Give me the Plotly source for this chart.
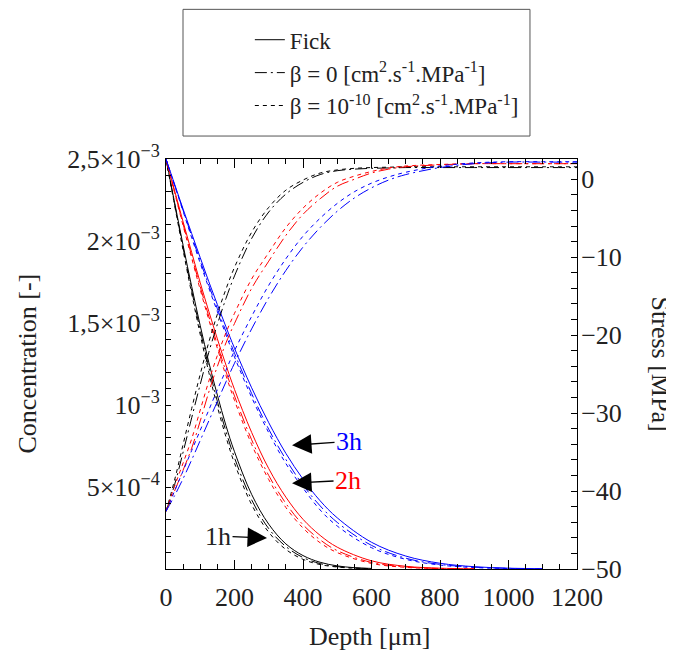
import plotly.graph_objects as go

# ---------------- data ----------------
# concentration values in units of 1e-3 [-]
depth_1h = [0, 25, 50, 75, 100, 125, 150, 175, 200, 250, 300, 350, 400, 450, 500, 550, 600]
fick_1h = [2.5, 2.236, 1.973, 1.722, 1.483, 1.260, 1.060, 0.875, 0.715, 0.455, 0.273, 0.153, 0.082, 0.041, 0.019, 0.008, 0.0035]
beta0_1h = [2.5, 2.227, 1.957, 1.698, 1.455, 1.230, 1.022, 0.840, 0.678, 0.422, 0.246, 0.137, 0.070, 0.033, 0.0145, 0.006, 0.0025]
beta10_1h = [2.5, 2.219, 1.943, 1.679, 1.429, 1.199, 0.990, 0.806, 0.645, 0.393, 0.224, 0.119, 0.059, 0.027, 0.012, 0.005, 0.002]

depth_2h = [0, 25, 50, 75, 100, 125, 150, 175, 200, 250, 300, 350, 400, 450, 500, 600, 700, 800, 900]
fick_2h = [2.5, 2.308, 2.116, 1.930, 1.745, 1.571, 1.403, 1.244, 1.095, 0.833, 0.612, 0.438, 0.303, 0.205, 0.133, 0.050, 0.0165, 0.005, 0.0012]
beta0_2h = [2.5, 2.300, 2.102, 1.908, 1.721, 1.540, 1.368, 1.205, 1.055, 0.788, 0.570, 0.400, 0.270, 0.178, 0.112, 0.040, 0.0125, 0.003, 0.001]
beta10_2h = [2.5, 2.295, 2.093, 1.895, 1.703, 1.520, 1.345, 1.180, 1.028, 0.760, 0.545, 0.375, 0.250, 0.160, 0.100, 0.034, 0.010, 0.0025, 0.0008]

depth_3h = [0, 25, 50, 75, 100, 125, 150, 175, 200, 250, 300, 350, 400, 450, 500, 600, 700, 800, 900, 1000, 1100]
fick_3h = [2.5, 2.347, 2.194, 2.045, 1.898, 1.752, 1.612, 1.477, 1.346, 1.105, 0.892, 0.705, 0.548, 0.416, 0.312, 0.163, 0.079, 0.035, 0.014, 0.005, 0.002]
beta0_3h = [2.5, 2.342, 2.186, 2.030, 1.878, 1.730, 1.587, 1.448, 1.316, 1.070, 0.852, 0.668, 0.512, 0.385, 0.284, 0.144, 0.066, 0.028, 0.011, 0.004, 0.0013]
beta10_3h = [2.5, 2.339, 2.180, 2.020, 1.864, 1.714, 1.569, 1.429, 1.293, 1.047, 0.831, 0.643, 0.494, 0.360, 0.262, 0.130, 0.059, 0.024, 0.009, 0.003, 0.001]

# stress [MPa]
depth_s = [0, 25, 50, 75, 100, 125, 150, 175, 200, 250, 300, 350, 400, 450, 500, 550, 600, 650, 700, 800, 900, 1000, 1100, 1200]
stress_beta0_1h = [-42.6, -39.2, -35.0, -30.6, -26.3, -22.2, -18.6, -15.3, -12.4, -7.6, -4.2, -1.9, -0.4, 0.6, 1.1, 1.3, 1.4, 1.45, 1.5, 1.5, 1.5, 1.5, 1.5, 1.5]
stress_beta10_1h = [-42.6, -38.6, -34.0, -29.4, -25.0, -20.9, -17.3, -14.1, -11.3, -6.8, -3.6, -1.4, -0.1, 0.8, 1.2, 1.4, 1.5, 1.55, 1.6, 1.6, 1.6, 1.6, 1.6, 1.6]
stress_beta0_2h = [-42.6, -40.0, -37.3, -34.5, -31.0, -27.3, -24.0, -21.0, -18.5, -14.0, -10.5, -7.2, -4.5, -2.5, -0.9, 0.0, 0.8, 1.3, 1.6, 1.85, 2.0, 2.0, 2.0, 2.0]
stress_beta10_2h = [-42.6, -39.4, -36.4, -33.3, -29.6, -25.9, -22.6, -19.7, -17.2, -12.8, -9.4, -6.2, -3.7, -1.8, -0.4, 0.4, 1.0, 1.45, 1.7, 1.9, 2.0, 2.0, 2.0, 2.0]
stress_beta0_3h = [-42.6, -40.6, -38.4, -36.0, -33.5, -31.0, -28.5, -26.0, -23.6, -19.2, -15.2, -11.7, -8.7, -6.2, -4.1, -2.4, -1.1, -0.1, 0.6, 1.5, 2.0, 2.2, 2.2, 2.2]
stress_beta10_3h = [-42.6, -40.0, -37.4, -34.8, -32.2, -29.6, -27.0, -24.5, -22.0, -17.6, -13.6, -10.2, -7.3, -5.0, -3.1, -1.6, -0.5, 0.3, 0.9, 1.7, 2.1, 2.25, 2.25, 2.25]

x_ticks = [0, 200, 400, 600, 800, 1000, 1200]
conc_tickvals = [5e-4, 1e-3, 1.5e-3, 2e-3, 2.5e-3]
conc_ticktext = ["5×10<sup>−4</sup>", "10<sup>−3</sup>", "1,5×10<sup>−3</sup>", "2×10<sup>−3</sup>", "2,5×10<sup>−3</sup>"]
stress_tickvals = [0, -10, -20, -30, -40, -50]
stress_ticktext = ["0", "−10", "−20", "−30", "−40", "−50"]

legend_labels = ["Fick",
                 "β = 0 [cm<sup>2</sup>.s<sup>-1</sup>.MPa<sup>-1</sup>]",
                 "β = 10<sup>-10</sup> [cm<sup>2</sup>.s<sup>-1</sup>.MPa<sup>-1</sup>]"]

# ---------------- styles ----------------
FONT = "Liberation Serif"
TXT = "#222222"
DASH_B0 = "12px,4px,2px,4px"
DASH_B10 = "4px,4px"
colors = {"1h": "#000000", "2h": "#ff0000", "3h": "#0000ff"}

fig = go.Figure()

conc_sets = [
    ("1h", depth_1h, fick_1h, beta0_1h, beta10_1h),
    ("2h", depth_2h, fick_2h, beta0_2h, beta10_2h),
    ("3h", depth_3h, fick_3h, beta0_3h, beta10_3h),
]
for name, d, f, b0, b10 in conc_sets:
    c = colors[name]
    for vals, dash in [(f, "solid"), (b0, DASH_B0), (b10, DASH_B10)]:
        fig.add_trace(go.Scatter(x=d, y=[v * 1e-3 for v in vals], mode="lines",
                                 line=dict(color=c, width=1, dash=dash, shape="spline"),
                                 showlegend=False, yaxis="y"))

stress_sets = [
    ("1h", stress_beta0_1h, stress_beta10_1h),
    ("2h", stress_beta0_2h, stress_beta10_2h),
    ("3h", stress_beta0_3h, stress_beta10_3h),
]
for name, s0, s10 in stress_sets:
    c = colors[name]
    for vals, dash in [(s0, DASH_B0), (s10, DASH_B10)]:
        fig.add_trace(go.Scatter(x=depth_s, y=vals, mode="lines",
                                 line=dict(color=c, width=1, dash=dash, shape="spline"),
                                 showlegend=False, yaxis="y2"))

# legend entries
for lab, dash in zip(legend_labels, ["solid", DASH_B0, DASH_B10]):
    fig.add_trace(go.Scatter(x=[None], y=[None], mode="lines", name=lab,
                             line=dict(color="black", width=1, dash=dash)))

axis_common = dict(showgrid=False, zeroline=False, showline=True, linecolor="black",
                   linewidth=1, tickcolor="black", tickfont=dict(family=FONT, size=26, color=TXT))

fig.update_layout(
    width=666, height=651,
    margin=dict(l=158, r=97, t=150, b=90),
    plot_bgcolor="white", paper_bgcolor="white",
    font=dict(family=FONT, color=TXT),
    xaxis=dict(range=[0, 1200], tickvals=x_ticks, ticks="inside", ticklen=9, mirror="ticks",
               ticklabelstandoff=5,
               minor=dict(dtick=50, tick0=0, ticks="inside", ticklen=5, tickcolor="black"),
               **axis_common),
    yaxis=dict(range=[0, 2.5e-3], tickvals=conc_tickvals, ticktext=conc_ticktext,
               ticks="inside", ticklen=5,
               minor=dict(dtick=1e-4, tick0=0, ticks="inside", ticklen=5, tickcolor="black"),
               **axis_common),
    yaxis2=dict(range=[-50, 2.6], overlaying="y", side="right", tickvals=stress_tickvals,
                ticktext=stress_ticktext, ticks="inside", ticklen=6, ticklabelstandoff=-2,
                minor=dict(dtick=2, tick0=0, ticks="inside", ticklen=6, tickcolor="black"),
                **axis_common),
    showlegend=True,
    legend=dict(x=0.204, y=1.34, xanchor="left", yanchor="top", bgcolor="rgba(0,0,0,0)",
                font=dict(family=FONT, size=23, color=TXT), tracegroupgap=0),
    shapes=[dict(type="rect", xref="paper", yref="paper", x0=0.0414, x1=0.8856, y0=1.056, y1=1.365,
                 line=dict(color="#555555", width=1))],
)

ann_font = dict(family=FONT, size=26, color=TXT)
fig.add_annotation(text="Depth [μm]", xref="paper", yref="paper", x=0.496, y=-0.165,
                   xanchor="center", yanchor="middle", showarrow=False, font=ann_font)
fig.add_annotation(text="Concentration [-]", xref="paper", yref="paper", x=-0.336, y=0.501,
                   xanchor="center", yanchor="middle", textangle=-90, showarrow=False, font=ann_font)
fig.add_annotation(text="Stress [MPa]", xref="paper", yref="paper", x=1.202, y=0.501,
                   xanchor="center", yanchor="middle", textangle=90, showarrow=False, font=ann_font)

# time labels with arrows
for txt, col, xt, yt, ax, ay in [("3h", "#0000ff", 368, 0.754e-3, 57, -4),
                                  ("2h", "#ff0000", 368, 0.523e-3, 56, -3),
                                  ("1h", TXT, 295, 0.189e-3, -49, -2)]:
    fig.add_annotation(text=txt, x=xt, y=yt, xref="x", yref="y", ax=ax, ay=ay,
                       showarrow=True, arrowhead=2, arrowsize=3, arrowwidth=1.3,
                       arrowcolor="black", font=dict(family=FONT, size=26, color=col))

fig.write_html("out.html")
